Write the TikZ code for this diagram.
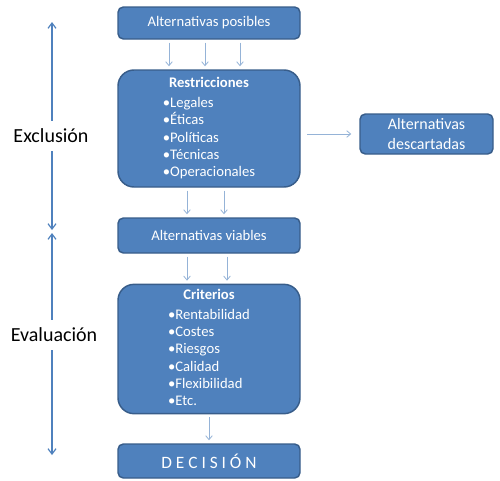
\documentclass[tikz,border=0pt]{standalone}
\usepackage{fontspec}
\setmainfont{Carlito}
\usetikzlibrary{arrows.meta}
\definecolor{azul}{HTML}{4F81BD}
\definecolor{borde}{HTML}{385D8A}
\definecolor{flechaclara}{HTML}{95B3D7}

\begin{document}
\begin{tikzpicture}[x=0.75pt,y=-0.75pt,
    caja/.style={draw=borde, line width=1.1pt, fill=azul, text=white, rounded corners=4pt,
        minimum width=136.5pt, inner sep=2pt, font=\fontsize{11}{13}\selectfont},
    cajagrande/.style={caja, rounded corners=12pt},
    flecha/.style={flechaclara, line width=0.6pt, -{Straight Barb[length=3pt,width=5pt]},
        shorten <=2.25pt, shorten >=2.25pt},
    lateral/.style={azul, line width=0.9pt, -{Straight Barb[length=4pt,width=6pt]}},
    etiqueta/.style={font=\fontsize{15}{18}\selectfont, inner sep=0pt}]
    \useasboundingbox (0,0) rectangle (500,480);

    % Cajas
    \node[caja, minimum height=24pt] (posibles) at (209,23) {Alternativas posibles};
    \node[cajagrande, minimum height=87.75pt] (restricciones) at (209,128.5)
        {\begin{tabular}{@{}l@{}}\multicolumn{1}{@{}c@{}}{\textbf{Restricciones}}\\[2pt]
        •Legales\\ •Éticas\\ •Políticas\\ •Técnicas\\ •Operacionales\end{tabular}};
    \node[caja, minimum height=26.25pt] (viables) at (209,235.5) {Alternativas viables};
    \node[cajagrande, minimum height=96pt] (criterios) at (209,349)
        {\begin{tabular}{@{}l@{}}\multicolumn{1}{@{}c@{}}{\textbf{Criterios}}\\[2pt]
        •Rentabilidad\\ •Costes\\ •Riesgos\\ •Calidad\\ •Flexibilidad\\ •Etc.\end{tabular}};
    \node[caja, minimum height=25.5pt, font=\fontsize{13}{15}\selectfont] (decision) at (209,461)
        {D E C I S I Ó N};
    \node[caja, minimum width=99.75pt, minimum height=30pt, align=center,
        font=\fontsize{12}{14.5}\selectfont] (descartadas) at (426.5,134)
        {Alternativas\\descartadas};

    % Flechas
    \draw[flecha] ([xshift=-30pt]posibles.south) -- ([xshift=-30pt]restricciones.north);
    \draw[flecha] ([xshift=-3pt]posibles.south) -- ([xshift=-3pt]restricciones.north);
    \draw[flecha] ([xshift=23.25pt]posibles.south) -- ([xshift=23.25pt]restricciones.north);
    \draw[flecha] ([xshift=-16.5pt]restricciones.south) -- ([xshift=-16.5pt]viables.north);
    \draw[flecha] ([xshift=11.25pt]restricciones.south) -- ([xshift=11.25pt]viables.north);
    \draw[flecha] ([xshift=-16.5pt]viables.south) -- ([xshift=-16.5pt]criterios.north);
    \draw[flecha] ([xshift=13.5pt]viables.south) -- ([xshift=13.5pt]criterios.north);
    \draw[flecha] (criterios.south) -- (decision.north);
    \draw[flecha, shorten <=5pt, shorten >=6pt] (descartadas.west -| restricciones.east) -- (descartadas.west);

    % Fases
    \coordinate (e1) at (52,22);
    \coordinate (e2) at (52,230);
    \coordinate (e3) at (52,233);
    \coordinate (e4) at (52,455);
    \node[etiqueta] (exclusion) at (51,136) {Exclusión};
    \node[etiqueta] (evaluacion) at (54,335) {Evaluación};
    \draw[lateral, shorten <=6pt] (exclusion.north -| e1) -- (e1);
    \draw[lateral, shorten <=6pt] (exclusion.south -| e2) -- (e2);
    \draw[lateral, shorten <=6pt] (evaluacion.north -| e3) -- (e3);
    \draw[lateral, shorten <=6pt] (evaluacion.south -| e4) -- (e4);
\end{tikzpicture}
\end{document}
